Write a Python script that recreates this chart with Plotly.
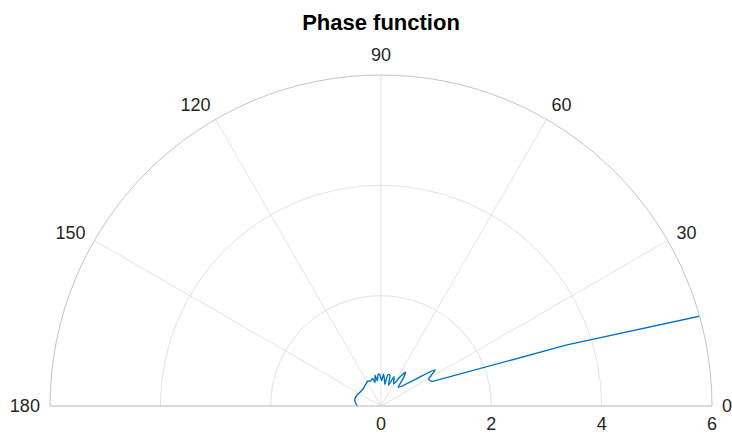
import plotly.graph_objects as go

# Scattering angle (degrees) and phase function value.
# Forward lobe (coarse sampling, drawn with straight segments)
theta_fwd = [0, 13.5, 18.2, 25.6]
phase_fwd = [40, 16, 3.55, 1.02]

# Side and back scattering ripples
theta_back = [25.6, 29.4, 33.7, 47, 51, 54, 57, 60, 63.5, 66, 70, 74, 77.6, 80, 83,
              85.7, 88.5, 92, 95, 98, 101, 104, 107, 112, 118, 123, 129, 136, 143,
              149, 156, 165, 172, 178, 180]
phase_back = [1.02, 0.99, 1.18, 0.46, 0.64, 0.76, 0.62, 0.46, 0.52, 0.58, 0.40, 0.58,
              0.58, 0.40, 0.50, 0.58, 0.46, 0.56, 0.58, 0.46, 0.57, 0.44, 0.52, 0.49,
              0.51, 0.49, 0.47, 0.45, 0.45, 0.46, 0.48, 0.49, 0.47, 0.44, 0.43]

angle_ticks = [0, 30, 60, 90, 120, 150, 180]
radial_ticks = [0, 2, 4, 6]

W, H = 732, 434
cx, cy, R = 381, 406, 331
blue = "#0072BD"

fig = go.Figure()
fig.add_trace(go.Scatterpolar(
    r=phase_fwd, theta=theta_fwd, mode="lines",
    line=dict(color=blue, width=1.4),
    hoverinfo="skip", showlegend=False,
))
fig.add_trace(go.Scatterpolar(
    r=phase_back, theta=theta_back, mode="lines",
    line=dict(color=blue, width=1.4, shape="spline", smoothing=0.6),
    hoverinfo="skip", showlegend=False,
))

tick_font = dict(family="Liberation Sans, Arial, sans-serif", size=18, color="#262626")

fig.update_layout(
    width=W, height=H,
    margin=dict(l=0, r=0, t=0, b=0),
    paper_bgcolor="white",
    title=dict(text="<b>Phase function</b>", x=cx / W, xanchor="center", y=1 - 22 / H,
               yanchor="middle",
               font=dict(family="Liberation Sans, Arial, sans-serif", size=22, color="#000000")),
    polar=dict(
        domain=dict(x=[(cx - R) / W, (cx + R) / W], y=[(H - cy) / H, (H - cy + R) / H]),
        sector=[0, 180],
        bgcolor="white",
        angularaxis=dict(
            direction="counterclockwise", rotation=0,
            tickmode="array", tickvals=angle_ticks,
            ticktext=[str(t) for t in angle_ticks],
            ticks="outside", ticklen=6, tickcolor="rgba(0,0,0,0)",
            tickfont=tick_font,
            showline=True, linecolor="#c4c4c4", linewidth=1,
            showgrid=True, gridcolor="#e2e2e2", gridwidth=1,
        ),
        radialaxis=dict(
            range=[0, 6], angle=0, side="clockwise",
            tickmode="array", tickvals=radial_ticks,
            ticktext=[str(t) for t in radial_ticks],
            ticks="outside", ticklen=2, tickcolor="rgba(0,0,0,0)",
            tickfont=tick_font, tickangle=0,
            showline=False,
            showgrid=True, gridcolor="#e2e2e2", gridwidth=1,
        ),
    ),
)

fig.write_html("out.html")
